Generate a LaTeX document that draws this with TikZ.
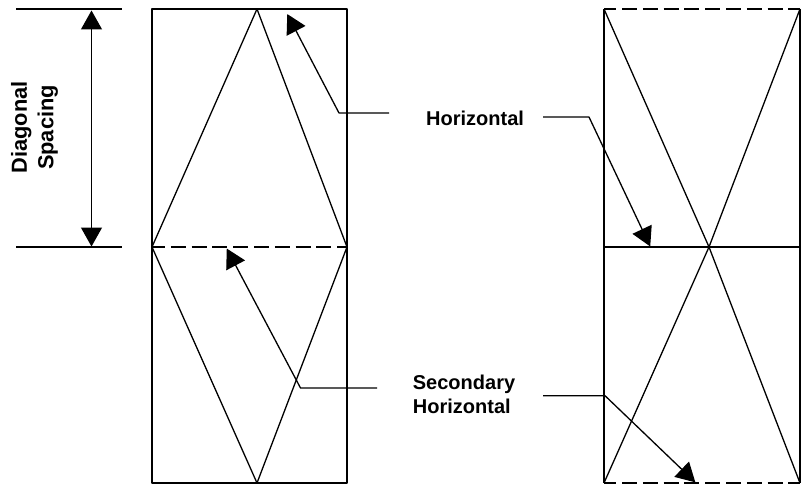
\documentclass[tikz,border=0pt]{standalone}
\usepackage{fontspec}
\setmainfont{Liberation Sans}
\usetikzlibrary{arrows.meta}
\tikzset{
  ln/.style={line width=1.3pt,line join=round,black},
  dsh/.style={ln,dash pattern=on 15pt off 5.8pt},
  tipshape/.style={},
  pointer/.style={line width=1.3pt,line join=round,-{Triangle[length=19pt,width=21pt]},shorten >=-0.5pt},
  lab/.style={inner sep=0pt,font=\fontsize{20}{24}\bfseries\selectfont,align=left},
  sidelab/.style={inner sep=0pt,font=\fontsize{21.8}{26.5}\bfseries\selectfont,align=center,rotate=90}
}
\begin{document}
\begin{tikzpicture}[x=1pt,y=-1pt]
\useasboundingbox (0,0) rectangle (801,487);
% named points, left panel
\coordinate (LTL) at (152,9);
\coordinate (LTR) at (347,9);
\coordinate (LML) at (152,247);
\coordinate (LMR) at (347,247);
\coordinate (LBL) at (152,483);
\coordinate (LBR) at (347,483);
\coordinate (LAT) at (257,9);
\coordinate (LAB) at (257,483);
% named points, right panel
\coordinate (RTL) at (604,9);
\coordinate (RTR) at (800,9);
\coordinate (RML) at (604,247);
\coordinate (RMR) at (800,247);
\coordinate (RBL) at (604,483);
\coordinate (RBR) at (800,483);
\coordinate (RX) at (709,247);
% dimension
\coordinate (DT1) at (16,9);
\coordinate (DT2) at (122,9);
\coordinate (DB1) at (16,247);
\coordinate (DB2) at (122,247);
\coordinate (DA1) at (91.5,10.5);
\coordinate (DA2) at (91.5,246.5);
% left panel
\draw[ln] (LML) -- (LTL) -- (LTR) -- (LMR) -- (LBR) -- (LBL) -- cycle;
\draw[ln] (LML) -- (LAT) -- (LMR) -- (LAB) -- cycle;
\draw[dsh,dash phase=2pt] (LML) -- (LMR);
% right panel
\draw[ln] (RTL) -- (RBL) (RTR) -- (RBR);
\draw[dsh,dash phase=2.8pt] (RTL) -- (RTR);
\draw[dsh,dash phase=2.8pt] (RBL) -- (RBR);
\draw[ln] (RML) -- (RMR);
\draw[ln] (RTL) -- (RX) -- (RBR);
\draw[ln] (RTR) -- (RX) -- (RBL);
% dimension
\draw[ln] (DT1) -- (DT2);
\draw[ln] (DB1) -- (DB2);
\draw[line width=1.3pt,{Triangle[length=19pt,width=21pt]}-{Triangle[length=19pt,width=21pt]}] (DA1) -- (DA2);
\node[sidelab] (dsp) at (34.5,127.5) {Diagonal\\Spacing};
% labels
\node[lab,anchor=base west] (hz) at (426,125) {Horizontal};
\node[lab,anchor=north west] (sh) at (412.7,375) {Secondary\\Horizontal};
% pointers
\coordinate (A1s) at (389,113);
\coordinate (A1k) at (339,113);
\coordinate (A1t) at (287.5,14.5);
\coordinate (A2s) at (377,388);
\coordinate (A2k) at (300.5,388);
\coordinate (A2t) at (227,249);
\coordinate (A3s) at (543,117);
\coordinate (A3k) at (589,117);
\coordinate (A3t) at (650,246);
\coordinate (A4s) at (543,395.7);
\coordinate (A4k) at (605,395.7);
\coordinate (A4t) at (695,482);
\draw[pointer] (A1s) -- (A1k) -- (A1t);
\draw[pointer] (A2s) -- (A2k) -- (A2t);
\draw[pointer] (A3s) -- (A3k) -- (A3t);
\draw[pointer] (A4s) -- (A4k) -- (A4t);
\end{tikzpicture}
\end{document}
